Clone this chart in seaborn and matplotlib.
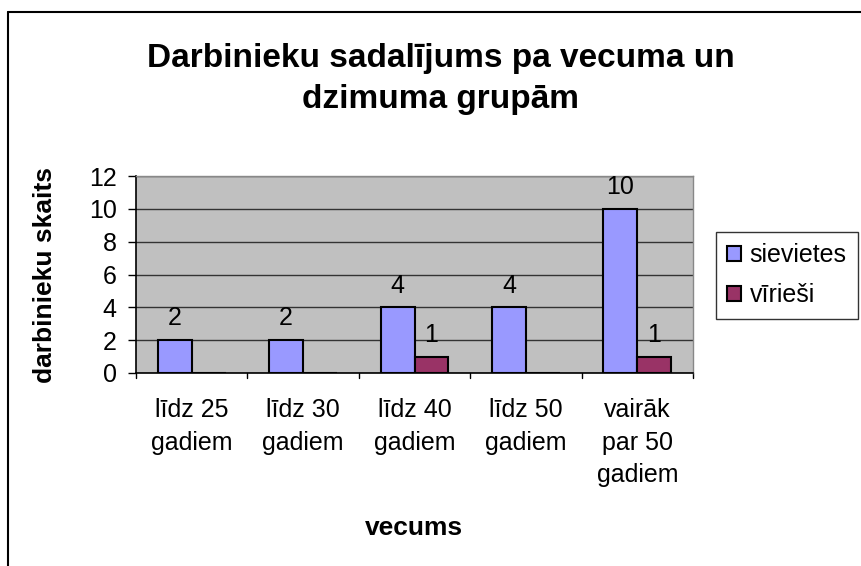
import pandas as pd
import seaborn as sns
import matplotlib.pyplot as plt
from matplotlib.lines import Line2D

# dati
grupas = ['līdz 25\ngadiem', 'līdz 30\ngadiem', 'līdz 40\ngadiem', 'līdz 50\ngadiem', 'vairāk\npar 50\ngadiem']
sievietes = [2, 2, 4, 4, 10]
virviesi = [0, 0, 1, 0, 1]
serijas = ['sievietes', 'vīrieši']
krasas = ['#9999FF', '#993366']

df = pd.DataFrame({
    'grupa': grupas * 2,
    'skaits': sievietes + virviesi,
    'dzimums': [serijas[0]] * len(grupas) + [serijas[1]] * len(grupas),
})

sns.set_style('white')
plt.rcParams['font.family'] = ['Liberation Sans', 'DejaVu Sans']
plt.rcParams['text.color'] = 'black'
plt.rcParams['axes.labelcolor'] = 'black'
plt.rcParams['xtick.color'] = 'black'
plt.rcParams['ytick.color'] = 'black'

W, H = 861, 566
fig = plt.figure(figsize=(W / 100, H / 100), dpi=100)
ax = fig.add_axes([136 / W, 1 - 373 / H, 557 / W, 197 / H])
ax.set_facecolor('#C0C0C0')

sns.barplot(data=df, x='grupa', y='skaits', hue='dzimums', palette=krasas, saturation=1,
            width=0.61, edgecolor='black', linewidth=1.5, ax=ax, zorder=3)

# vertibas virs stabiem (nulles nerada)
for cont in ax.containers:
    labels = [f'{int(v)}' if v > 0 else '' for v in cont.datavalues]
    ax.bar_label(cont, labels=labels, padding=7, fontsize=18, color='black')

ax.set_ylim(0, 12)
ax.set_yticks(range(0, 13, 2))
ax.set_xlim(-0.5, 4.5)
ax.yaxis.grid(True, color='#333333', linewidth=1)
ax.set_axisbelow(True)

ax.tick_params(axis='y', labelsize=18, length=6, width=1, direction='out', left=True, pad=8)
ax.tick_params(axis='x', labelsize=18, length=0, pad=18)
for lbl in ax.get_xticklabels():
    lbl.set_linespacing(1.45)
    lbl.set_verticalalignment('top')
# x ass iedalas starp grupam
for xb in [-0.5, 0.5, 1.5, 2.5, 3.5, 4.5]:
    ax.plot([xb, xb], [0, -0.28], color='black', linewidth=1, clip_on=False)

for s in ['top', 'right']:
    ax.spines[s].set_color('#888888')
    ax.spines[s].set_linewidth(1)
for s in ['left', 'bottom']:
    ax.spines[s].set_color('black')
    ax.spines[s].set_linewidth(1.2)

ax.set_xlabel('')
ax.set_ylabel('')
fig.text(414 / W, 1 - 528 / H, 'vecums', ha='center', va='center', fontsize=19, fontweight='bold')
fig.text(45 / W, 1 - 275 / H, 'darbinieku skaits', ha='center', va='center', rotation=90,
         fontsize=19, fontweight='bold')

fig.text(441 / W, 1 - 79 / H, 'Darbinieku sadalījums pa vecuma un\ndzimuma grupām', ha='center', va='center',
         fontsize=24, fontweight='bold', linespacing=1.45)

ax.legend().remove()
leg = fig.legend(*ax.get_legend_handles_labels(), loc='upper left', bbox_to_anchor=(716 / W, 1 - 232 / H),
                 fontsize=18, frameon=True, fancybox=False, edgecolor='black', handlelength=0.55,
                 handleheight=0.55, handletextpad=0.35, labelspacing=0.65, borderpad=0.45, borderaxespad=0)
leg.get_frame().set_linewidth(1)
for h in leg.legend_handles:
    h.set_edgecolor('black')
    h.set_linewidth(1.5)

# ramis ap diagrammu (nogriezts labaja un apaksejaa puse)
fig.add_artist(Line2D([7.5 / W, 7.5 / W], [0, 1 - 12 / H], color='black', linewidth=1.5))
fig.add_artist(Line2D([7.5 / W, 1], [1 - 12 / H, 1 - 12 / H], color='black', linewidth=1.5))

fig.savefig('out.png', dpi=100)
